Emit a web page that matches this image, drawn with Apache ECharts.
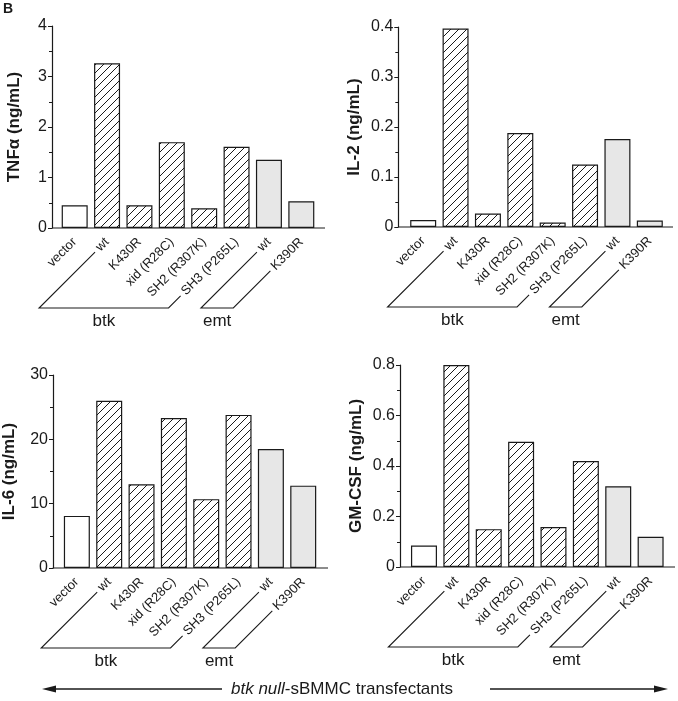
<!DOCTYPE html>
<html>
<head>
<meta charset="utf-8">
<script src="https://cdn.jsdelivr.net/npm/echarts@6/dist/echarts.min.js"></script>
<style>
  html, body { margin: 0; padding: 0; background: #fff; }
  #chart { width: 678px; height: 701px; }
</style>
</head>
<body>
<div id="chart"></div>
<script>
// Categories and groups (same for every panel).
var categories = ['vector', 'wt', 'K430R', 'xid (R28C)', 'SH2 (R307K)', 'SH3 (P265L)', 'wt', 'K390R'];
var groups = ['vector', 'btk', 'btk', 'btk', 'btk', 'btk', 'emt', 'emt'];

// Values.
var tnfValues = [0.45, 3.26, 0.45, 1.70, 0.39, 1.61, 1.35, 0.53];
var il2Values = [0.014, 0.397, 0.027, 0.188, 0.009, 0.125, 0.176, 0.013];
var il6Values = [8.1, 26.0, 13.0, 23.3, 10.7, 23.8, 18.5, 12.8];
var gmcsfValues = [0.085, 0.80, 0.15, 0.496, 0.158, 0.42, 0.32, 0.12];

// Tick labels of each y axis.
var tnfTicks = [0, 1, 2, 3, 4];
var il2Ticks = [0, 0.1, 0.2, 0.3, 0.4];
var il6Ticks = [0, 10, 20, 30];
var gmcsfTicks = [0, 0.2, 0.4, 0.6, 0.8];

var ink = '#1a1a1a';
var font = '"Liberation Sans", Arial, Helvetica, sans-serif';
var labelSize = 13;
var labelMargin = 12;

/**
 * Build the diagonal hatch tile used for btk bars.
 */
function hatchTile() {
  var c = document.createElement('canvas');
  c.width = 8;
  c.height = 8;
  var g = c.getContext('2d');
  g.fillStyle = '#fff';
  g.fillRect(0, 0, 8, 8);
  g.strokeStyle = ink;
  g.lineWidth = 1;
  g.beginPath();
  g.moveTo(-1, 9); g.lineTo(9, -1);
  g.moveTo(-1, 1); g.lineTo(1, -1);
  g.moveTo(7, 9); g.lineTo(9, 7);
  g.stroke();
  return c;
}

var fills = {
  vector: '#ffffff',
  btk: { image: hatchTile(), repeat: 'repeat' },
  emt: '#e7e7e7'
};

// Panel layout.
var panels = [
  { name: 'TNFα (ng/mL)', values: tnfValues, ticks: tnfTicks, left: 58.5, top: 26, height: 202, yOffset: 6.5, axisEnd: 325, nameGap: 29 },
  { name: 'IL-2 (ng/mL)', values: il2Values, ticks: il2Ticks, left: 407, top: 27, height: 200, yOffset: 8.7, axisEnd: 673, nameGap: 35 },
  { name: 'IL-6 (ng/mL)', values: il6Values, ticks: il6Ticks, left: 60.4, top: 375, height: 193, yOffset: 7.7, axisEnd: 328, nameGap: 35 },
  { name: 'GM-CSF (ng/mL)', values: gmcsfValues, ticks: gmcsfTicks, left: 407.8, top: 365, height: 202, yOffset: 7.8, axisEnd: 675, nameGap: 35 }
];
var bandWidth = 259;

var option = {
  animation: false,
  backgroundColor: '#fff',
  textStyle: { fontFamily: font, color: ink },
  grid: [],
  xAxis: [],
  yAxis: [],
  series: []
};

panels.forEach(function (p, i) {
  option.grid.push({ left: p.left, top: p.top, width: bandWidth, height: p.height });
  option.xAxis.push({
    type: 'category',
    gridIndex: i,
    data: categories,
    axisLine: { show: false },
    axisTick: { show: false },
    axisLabel: { interval: 0, rotate: 45, margin: labelMargin, fontSize: labelSize, color: ink, fontFamily: font }
  });
  option.yAxis.push({
    type: 'value',
    gridIndex: i,
    min: p.ticks[0],
    max: p.ticks[p.ticks.length - 1],
    interval: p.ticks[1] - p.ticks[0],
    offset: p.yOffset,
    name: p.name,
    nameLocation: 'middle',
    nameGap: p.nameGap,
    nameTextStyle: { fontSize: 17, fontWeight: 'bold', color: ink, fontFamily: font },
    axisLine: { show: true, lineStyle: { color: ink, width: 1.2 } },
    axisTick: { show: true, length: 4, lineStyle: { color: ink } },
    minorTick: { show: true, splitNumber: 2, length: 3, lineStyle: { color: ink } },
    splitLine: { show: false },
    axisLabel: { margin: 5, fontSize: 16, color: ink, fontFamily: font }
  });
  option.series.push({
    type: 'bar',
    xAxisIndex: i,
    yAxisIndex: i,
    barWidth: 26,
    data: p.values.map(function (v, k) {
      return { value: v, itemStyle: { color: fills[groups[k]] } };
    }),
    itemStyle: { borderColor: ink, borderWidth: 1.2 }
  });
});

var chart = echarts.init(document.getElementById('chart'), null, { renderer: 'canvas' });
chart.setOption(option);

// Annotation: axis lines, group brackets, captions.
var measure = document.createElement('canvas').getContext('2d');
measure.font = labelSize + 'px ' + font;

var graphics = [];
panels.forEach(function (p, i) {
  var zeroY = chart.convertToPixel({ yAxisIndex: i }, 0);
  graphics.push({
    type: 'line',
    shape: { x1: p.left - p.yOffset, y1: zeroY, x2: p.axisEnd, y2: zeroY },
    style: { stroke: ink, lineWidth: 1.2 }
  });

  var bottomY = zeroY + 80;
  ['btk', 'emt'].forEach(function (g) {
    var first = groups.indexOf(g);
    var last = groups.lastIndexOf(g);
    var ends = [first, last].map(function (k) {
      var cx = chart.convertToPixel({ xAxisIndex: i }, k);
      var d = (measure.measureText(categories[k]).width + 4) / Math.SQRT2;
      var anchorY = zeroY + labelMargin;
      return {
        top: [cx - d, anchorY + d],
        bottom: [cx + anchorY - bottomY, bottomY]
      };
    });
    graphics.push({
      type: 'polyline',
      shape: { points: [ends[0].top, ends[0].bottom, ends[1].bottom, ends[1].top] },
      style: { stroke: ink, lineWidth: 1.1, fill: null }
    });
    graphics.push({
      type: 'text',
      x: (ends[0].bottom[0] + ends[1].bottom[0]) / 2,
      y: bottomY + 13,
      style: { text: g, fontSize: 17, fontFamily: font, fill: ink, align: 'center', verticalAlign: 'middle' }
    });
  });
});

graphics.push({
  type: 'text', x: 3, y: 2,
  style: { text: 'B', fontSize: 14, fontWeight: 'bold', fontFamily: font, fill: ink }
});

// Bottom caption with arrows.
var arrowY = 689;
graphics.push(
  { type: 'line', shape: { x1: 52, y1: arrowY, x2: 222, y2: arrowY }, style: { stroke: ink, lineWidth: 1.6 } },
  { type: 'polygon', shape: { points: [[42, arrowY], [56, arrowY - 3.5], [56, arrowY + 3.5]] }, style: { fill: ink } },
  { type: 'line', shape: { x1: 490, y1: arrowY, x2: 658, y2: arrowY }, style: { stroke: ink, lineWidth: 1.6 } },
  { type: 'polygon', shape: { points: [[668, arrowY], [654, arrowY - 3.5], [654, arrowY + 3.5]] }, style: { fill: ink } },
  {
    type: 'text', x: 342, y: arrowY,
    style: {
      text: '{i|btk null}-sBMMC transfectants',
      fontSize: 17, fontFamily: font, fill: ink, align: 'center', verticalAlign: 'middle',
      rich: { i: { fontStyle: 'italic', fontSize: 17, fontFamily: font, fill: ink } }
    }
  }
);

chart.setOption({ graphic: graphics });
</script>
</body>
</html>
